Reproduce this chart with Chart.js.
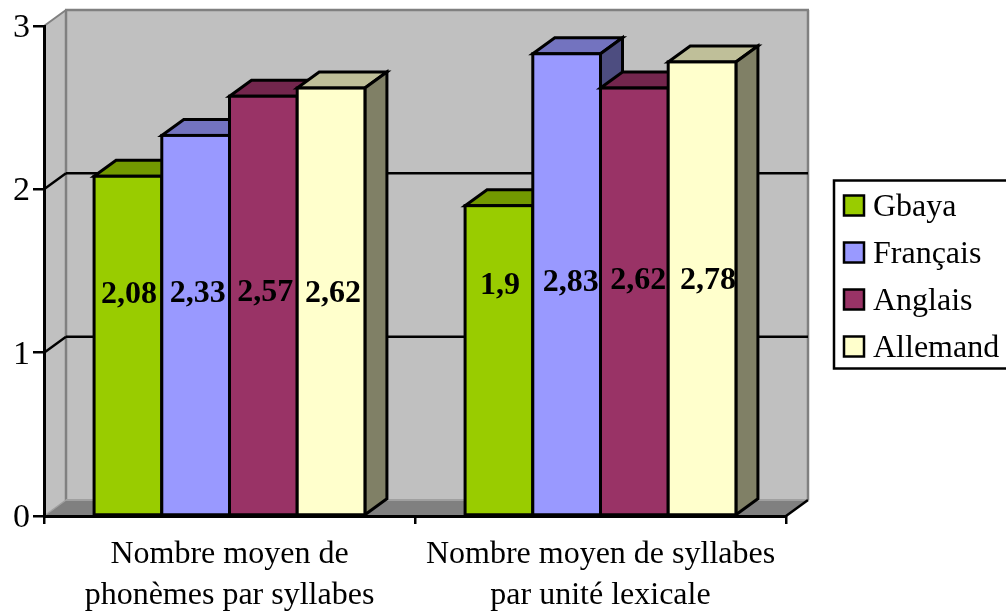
<!DOCTYPE html>
<html>
<head>
<meta charset="utf-8">
<script src="https://cdn.jsdelivr.net/npm/chart.js@4"></script>
<style>
  html, body { margin: 0; background: #fff; }
  canvas { display: block; }
</style>
</head>
<body>
<canvas id="chart" width="1006" height="613"></canvas>
<script>
const categories = [
  ['Nombre moyen de', 'phonèmes par syllabes'],
  ['Nombre moyen de syllabes', 'par unité lexicale'],
];
const tickValues = [0, 1, 2, 3];

const gbaya = [2.08, 1.9];
const francais = [2.33, 2.83];
const anglais = [2.57, 2.62];
const allemand = [2.62, 2.78];

const seriesNames = ['Gbaya', 'Français', 'Anglais', 'Allemand'];
const seriesLabels = [
  ['2,08', '1,9'],
  ['2,33', '2,83'],
  ['2,57', '2,62'],
  ['2,62', '2,78'],
];

const frontColors = ['#99CC00', '#9999FF', '#993366', '#FFFFCC'];
const topColors = ['#739900', '#7373BF', '#73264D', '#BFBF99'];
const sideColors = ['#4D6600', '#4D4D80', '#4D1A33', '#808066'];

// where the value labels sit, they are not centred on the bars in the original
const labelCentres = [
  [295, 286],
  [294, 283],
  [293, 281],
  [294, 281],
];
const labelShifts = [
  [1, 1],
  [2, 4],
  [2, 4],
  [2, 6],
];

const DX = 22; // depth of the fake 3d box
const DY = -16;
const BAR_LINE = 3;
const SERIF = '"Liberation Serif", "Times New Roman", serif';

const poly = (ctx, points, fill, stroke, width) => {
  ctx.beginPath();
  points.forEach(([x, y], i) => (i ? ctx.lineTo(x, y) : ctx.moveTo(x, y)));
  ctx.closePath();
  if (fill) {
    ctx.fillStyle = fill;
    ctx.fill();
  }
  if (stroke) {
    ctx.strokeStyle = stroke;
    ctx.lineWidth = width;
    ctx.lineJoin = 'miter';
    ctx.stroke();
  }
};

const line = (ctx, x1, y1, x2, y2, color, width) => {
  ctx.beginPath();
  ctx.moveTo(x1, y1);
  ctx.lineTo(x2, y2);
  ctx.strokeStyle = color;
  ctx.lineWidth = width;
  ctx.stroke();
};

const box3d = {
  id: 'box3d',
  // walls and floor go under the axes
  beforeDraw(chart) {
    const { ctx, chartArea: a, scales } = chart;
    const bx = a.left + DX;
    const rx = a.right + DX;
    const ty = a.top + DY;
    const by = a.bottom + DY;
    ctx.save();
    poly(ctx, [[bx, ty], [rx, ty], [rx, by], [bx, by]], '#C0C0C0');
    poly(ctx, [[a.left, a.top], [bx, ty], [bx, by], [a.left, a.bottom]], '#C0C0C0');
    poly(ctx, [[a.left, a.bottom], [bx, by], [rx, by], [a.right, a.bottom]], '#808080');
    line(ctx, bx, ty, bx, by, '#808080', 2.5);
    line(ctx, bx - 1, ty, rx + 1, ty, '#808080', 2.5);
    line(ctx, rx, ty, rx, by, '#808080', 2.5);
    line(ctx, a.left, a.top, bx, ty, '#808080', 2);
    line(ctx, a.left, a.bottom, bx, by, '#A0A0A0', 1.5);
    line(ctx, bx, by, rx, by, '#A0A0A0', 2);
    line(ctx, a.right, a.bottom, rx, by, '#000', 2.5);
    [1, 2].forEach((v) => {
      const y = scales.y.getPixelForValue(v);
      line(ctx, a.left, y, bx, y + DY, '#000', 2.5);
      line(ctx, bx, y + DY, rx, y + DY, '#000', 2.5);
    });
    ctx.restore();
  },
  // draw series left to right, each bar's front covers the side of the previous one
  beforeDatasetsDraw(chart) {
    const { ctx } = chart;
    seriesNames.forEach((name, i) => {
      const meta = chart.getDatasetMeta(i);
      const rects = meta.data.map((bar) => bar.getProps(['x', 'y', 'base', 'width'], true));
      ctx.save();
      rects.forEach(({ x, y, base, width }) => {
        const l = x - width / 2;
        const r = x + width / 2;
        poly(ctx, [[l, y], [l + DX, y + DY], [r + DX, y + DY], [r, y]], topColors[i], '#000', BAR_LINE);
        poly(ctx, [[r, y], [r + DX, y + DY], [r + DX, base + DY], [r, base]], sideColors[i], '#000', BAR_LINE);
      });
      ctx.restore();
      meta.controller.draw();
      ctx.save();
      ctx.strokeStyle = '#000';
      ctx.lineWidth = BAR_LINE;
      rects.forEach(({ x, y, base, width }) => {
        ctx.strokeRect(x - width / 2, y, width, base - y);
      });
      ctx.restore();
    });
    return false;
  },
  afterDraw(chart) {
    const { ctx } = chart;
    ctx.save();
    // value labels
    ctx.fillStyle = '#000';
    ctx.font = `bold 32px ${SERIF}`;
    ctx.textAlign = 'center';
    ctx.textBaseline = 'middle';
    seriesLabels.forEach((labels, i) => {
      const meta = chart.getDatasetMeta(i);
      labels.forEach((text, j) => {
        ctx.fillText(text, meta.data[j].x + labelShifts[i][j], labelCentres[i][j]);
      });
    });
    // legend with its frame
    ctx.strokeStyle = '#000';
    ctx.lineWidth = 2.5;
    ctx.strokeRect(834, 180.5, 176, 188);
    ctx.font = `32px ${SERIF}`;
    ctx.textAlign = 'left';
    seriesNames.forEach((name, i) => {
      const y = 205.5 + i * 47;
      ctx.fillStyle = frontColors[i];
      ctx.fillRect(844, y - 10, 20, 20);
      ctx.strokeRect(844, y - 10, 20, 20);
      ctx.fillStyle = '#000';
      ctx.fillText(name, 873, y + 2);
    });
    ctx.restore();
  },
};

const makeDataset = (label, data, i) => ({
  label,
  data,
  backgroundColor: frontColors[i],
  borderWidth: 0,
  barPercentage: 1,
  categoryPercentage: 0.73,
});

new Chart(document.getElementById('chart'), {
  type: 'bar',
  data: {
    labels: categories,
    datasets: [gbaya, francais, anglais, allemand].map((d, i) => makeDataset(seriesNames[i], d, i)),
  },
  plugins: [box3d],
  options: {
    responsive: false,
    animation: false,
    layout: { padding: { top: 26, right: 220, left: 0, bottom: 0 } },
    plugins: { legend: { display: false }, tooltip: { enabled: false } },
    scales: {
      x: {
        afterFit: (scale) => { scale.height = 97; },
        grid: { drawOnChartArea: false, drawTicks: true, tickLength: 8, color: '#000', lineWidth: 2.5 },
        border: { display: true, color: '#000', width: 3 },
        ticks: { color: '#000', font: { family: SERIF, size: 32, lineHeight: 1.28 }, maxRotation: 0, padding: 10 },
      },
      y: {
        min: 0,
        max: 3,
        afterFit: (scale) => { scale.width = 44; },
        afterBuildTicks: (scale) => { scale.ticks = tickValues.map((value) => ({ value })); },
        grid: { drawOnChartArea: false, drawTicks: true, tickLength: 11, color: '#000', lineWidth: 2.5 },
        border: { display: true, color: '#000', width: 3 },
        ticks: { color: '#000', font: { family: SERIF, size: 34 }, padding: 3, labelOffset: 2 },
      },
    },
  },
});
</script>
</body>
</html>
